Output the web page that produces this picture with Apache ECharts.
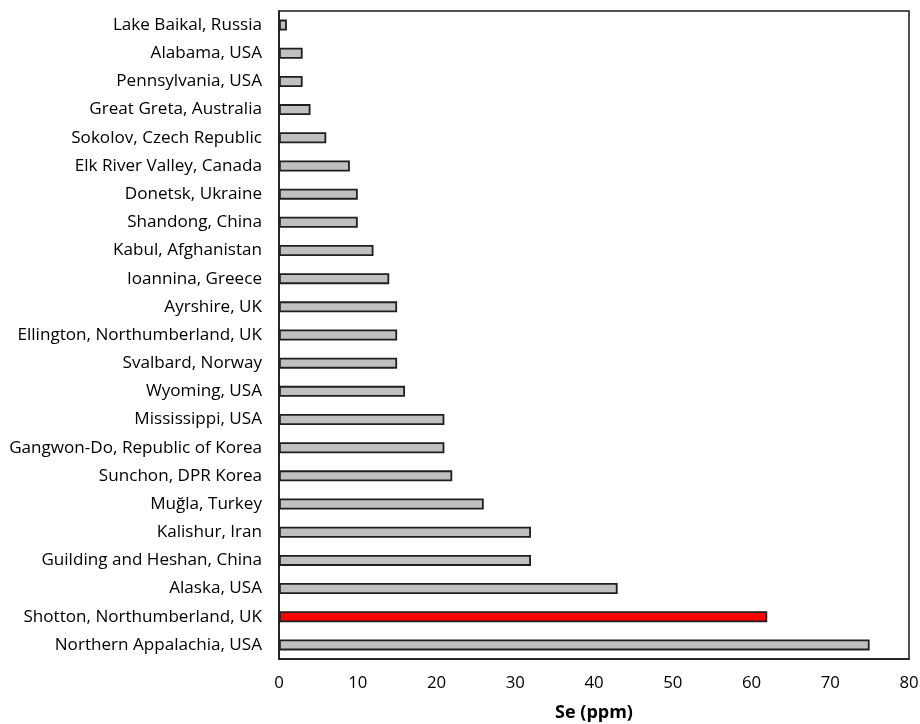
<!DOCTYPE html>
<html>
<head>
<meta charset="utf-8">
<script src="https://cdn.jsdelivr.net/npm/echarts@6/dist/echarts.min.js"></script>
<style>
html,body{margin:0;padding:0;background:#fff;}
#chart{width:920px;height:724px;}
</style>
</head>
<body>
<div id="chart"></div>
<script>
const categories = [
  "Lake Baikal, Russia",
  "Alabama, USA",
  "Pennsylvania, USA",
  "Great Greta, Australia",
  "Sokolov, Czech Republic",
  "Elk River Valley, Canada",
  "Donetsk, Ukraine",
  "Shandong, China",
  "Kabul, Afghanistan",
  "Ioannina, Greece",
  "Ayrshire, UK",
  "Ellington, Northumberland, UK",
  "Svalbard, Norway",
  "Wyoming, USA",
  "Mississippi, USA",
  "Gangwon-Do, Republic of Korea",
  "Sunchon, DPR Korea",
  "Muğla, Turkey",
  "Kalishur, Iran",
  "Guilding and Heshan, China",
  "Alaska, USA",
  "Shotton, Northumberland, UK",
  "Northern Appalachia, USA"
];
const seValues = [1, 3, 3, 4, 6, 9, 10, 10, 12, 14, 15, 15, 15, 16, 21, 21, 22, 26, 32, 32, 43, 62, 75];
const highlighted = ["Shotton, Northumberland, UK"];
const xTicks = [0, 10, 20, 30, 40, 50, 60, 70, 80];
const xAxisTitle = "Se (ppm)";

const chart = echarts.init(document.getElementById('chart'));
const FONT = '"Open Sans", sans-serif';
chart.setOption({
  animation: false,
  backgroundColor: '#ffffff',
  grid: {
    left: 279, right: 11, top: 11, bottom: 65,
    containLabel: false, outerBoundsMode: 'none',
    show: true, borderColor: '#1a1a1a', borderWidth: 1.5, backgroundColor: 'transparent'
  },
  xAxis: {
    type: 'value',
    min: xTicks[0], max: xTicks[xTicks.length - 1], interval: 10,
    name: xAxisTitle, nameLocation: 'middle', nameGap: 45,
    nameTextStyle: { fontFamily: FONT, fontSize: 18, fontWeight: 'bold', color: '#000' },
    axisLine: { show: true, lineStyle: { color: '#1a1a1a', width: 1.5 } },
    axisTick: { show: false },
    splitLine: { show: false },
    axisLabel: { fontFamily: FONT, fontSize: 16.8, color: '#000', margin: 16 }
  },
  yAxis: {
    type: 'category',
    inverse: true,
    data: categories,
    axisLine: { show: true, lineStyle: { color: '#1a1a1a', width: 1.5 } },
    axisTick: { show: false },
    axisLabel: { fontFamily: FONT, fontSize: 17.1, color: '#000', margin: 17 }
  },
  series: [{
    type: 'bar',
    barWidth: 11,
    data: seValues.map((v, i) => ({
      value: v,
      itemStyle: {
        color: highlighted.includes(categories[i]) ? '#ff0000' : '#c0c0c0',
        borderColor: '#1f1f1f', borderWidth: 1.8
      }
    }))
  }]
});
</script>
</body>
</html>
